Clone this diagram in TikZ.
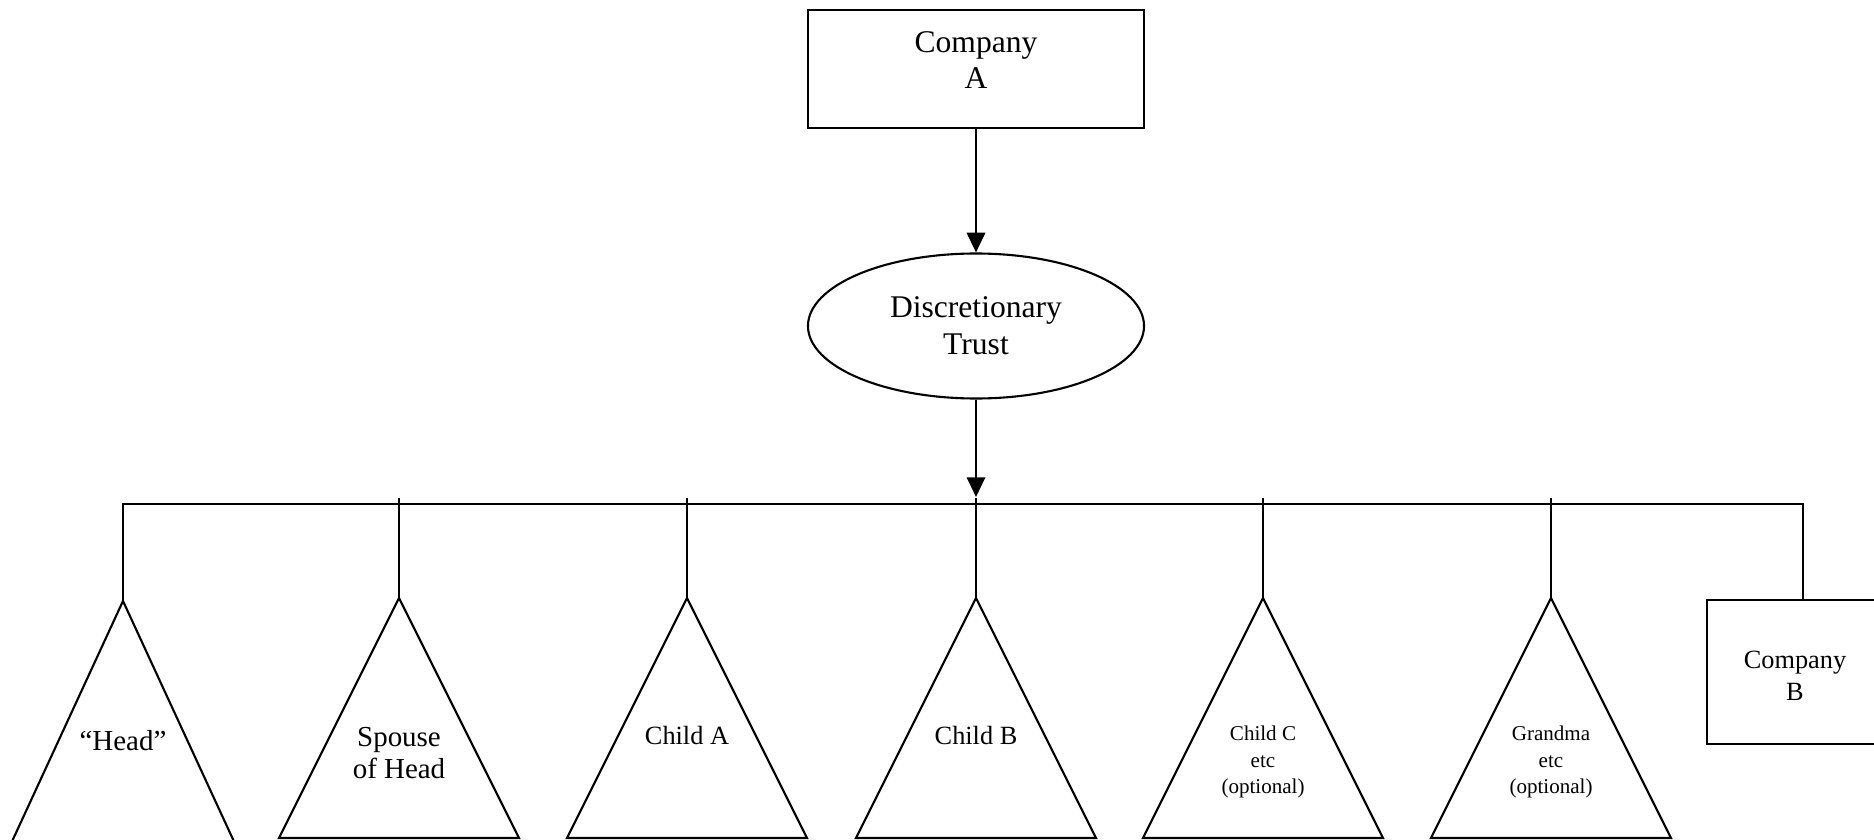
\documentclass[tikz,border=0pt]{standalone}
\usepackage{fontspec}
\setmainfont{Liberation Serif}
\usetikzlibrary{arrows.meta,shapes.geometric}

\begin{document}
\begin{tikzpicture}[x=0.38pt, y=-0.38pt, line width=0.8pt, >={Triangle[length=7.5pt, width=7pt]},
  box/.style={draw, align=center, inner sep=0pt},
  big/.style={font=\fontsize{12}{14}\selectfont},
  mid/.style={font=\fontsize{11}{12}\selectfont},
  norm/.style={font=\fontsize{10}{12}\selectfont},
  small/.style={font=\fontsize{8}{10}\selectfont}]
  \useasboundingbox (0,0) rectangle (1874,840);

  % Company A and the trust
  \node[box, minimum width=127.7pt, minimum height=44.8pt] (comA) at (976,69) {};
  \node[big, align=center] (comAtxt) at (976,60) {Company\\A};
  \node[box, ellipse, big, minimum width=127.7pt, minimum height=55.1pt] (trust) at (976,326) {Discretionary\\Trust};
  \draw[->] (comA) -- (trust);

  \coordinate (bus) at (976,497);
  \draw[->] (trust) -- (bus);

  % Company B on the right
  \node[box, minimum width=66.9pt, minimum height=54.7pt] (comB) at (1795,672) {};
  \node[norm, align=center] (comBtxt) at (1795,676) {Company\\B};

  % "Head" and the bar
  \coordinate (head) at (123,601);
  \coordinate (drop) at (1803,504);
  \draw (head) -- ++(120,260) -- ++(-240,0) -- cycle;
  \draw (head) |- (drop) -- (drop |- comB.north);

  % other beneficiaries
  \foreach \n/\x in {spouse/399, childA/687, childB/976, childC/1263, grandma/1551} {
    \coordinate (\n) at (\x,598);
    \draw (\n) -- ++(120,240) -- ++(-240,0) -- cycle;
    \draw (\x,498) -- (\n);
  }

  % labels
  \node[mid] (headtxt) at (123,741) {“Head”};
  \node[mid, align=center] (spousetxt) at (399,753) {Spouse\\of Head};
  \node[norm] (childAtxt) at (687,735) {Child A};
  \node[norm] (childBtxt) at (976,735) {Child B};
  \node[small, align=center] (childCtxt) at (1263,762) {Child C\\etc\\(optional)};
  \node[small, align=center] (grandmatxt) at (1551,762) {Grandma\\etc\\(optional)};
\end{tikzpicture}
\end{document}
